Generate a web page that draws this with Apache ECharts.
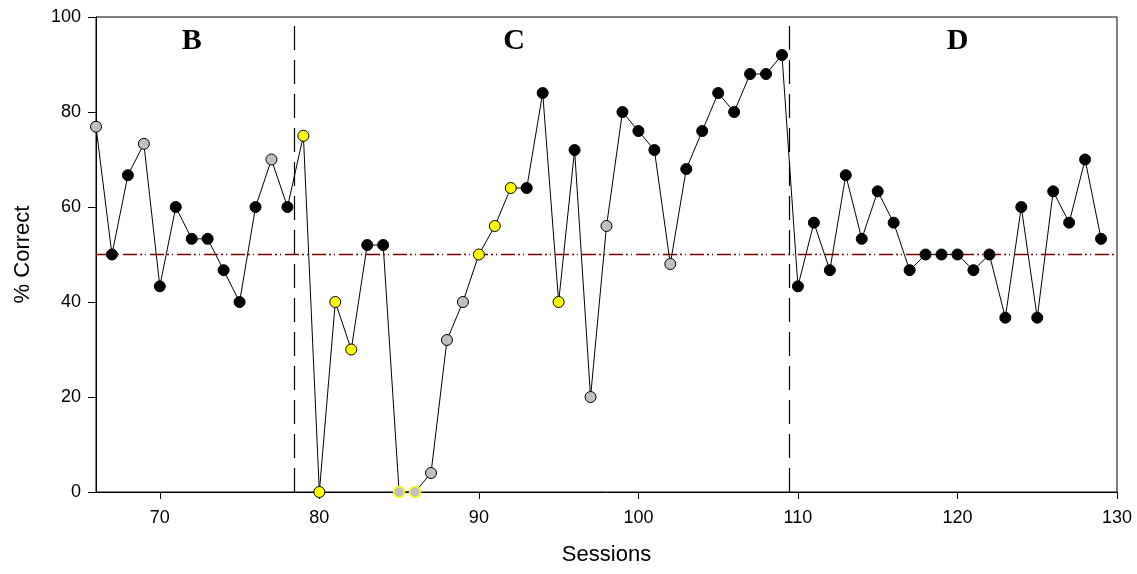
<!DOCTYPE html>
<html>
<head>
<meta charset="utf-8">
<script src="https://cdn.jsdelivr.net/npm/echarts@6/dist/echarts.min.js"></script>
<style>
html,body{margin:0;padding:0;background:#fff;}
#chart{width:1137px;height:574px;}
</style>
</head>
<body>
<div id="chart"></div>
<script>
// ---- data ----
const sessions = [66,67,68,69,70,71,72,73,74,75,76,77,78,79,80,81,82,83,84,85,86,87,88,89,90,91,92,93,94,95,96,97,98,99,100,101,102,103,104,105,106,107,108,109,110,111,112,113,114,115,116,117,118,119,120,121,122,123,124,125,126,127,128,129];
const percentCorrect = [76.9,50,66.7,73.3,43.3,60,53.3,53.3,46.7,40,60,70,60,75,0,40,30,52,52,0,0,4,32,40,50,56,64,64,84,40,72,20,56,80,76,72,48,68,76,84,80,88,88,92,43.3,56.7,46.7,66.7,53.3,63.3,56.7,46.7,50,50,50,46.7,50,36.7,60,36.7,63.3,56.7,70,53.3];
// marker type per session: k = black, g = gray, y = yellow, gy = gray with yellow outline
const markerType = ['g','k','k','g','k','k','k','k','k','k','k','g','k','y','y','y','y','k','k','gy','gy','g','g','g','y','y','y','k','k','y','k','g','g','k','k','k','g','k','k','k','k','k','k','k','k','k','k','k','k','k','k','k','k','k','k','k','k','k','k','k','k','k','k','k'];
const phaseNames = ['B','C','D'];
const phaseNameSession = [72, 92.2, 120];
const phaseChanges = [78.45, 109.45];
const chanceLevel = 50;
const xTicks = [70,80,90,100,110,120,130];

// ---- styles ----
const styleFor = {
  k:  {color:'#000000', borderColor:'#000000', borderWidth:1, opacity:1},
  g:  {color:'#c0c0c0', borderColor:'#000000', borderWidth:1, opacity:1},
  y:  {color:'#ffff00', borderColor:'#000000', borderWidth:1, opacity:1},
  gy: {color:'#c0c0c0', borderColor:'#ffff00', borderWidth:1.5, opacity:1}
};

const lineData = sessions.map((s,i)=>[s, percentCorrect[i]]);
const pointData = sessions.map((s,i)=>({value:[s, percentCorrect[i]], itemStyle: styleFor[markerType[i]]}));

const chart = echarts.init(document.getElementById('chart'), null, {renderer:'canvas'});
chart.setOption({
  animation:false,
  backgroundColor:'#ffffff',
  grid:{left:96, right:20, top:17, bottom:82, show:true, borderColor:'#000', borderWidth:1, backgroundColor:'transparent'},
  xAxis:{
    type:'value', min:66, max:130,
    name:'Sessions', nameLocation:'middle', nameGap:52,
    nameTextStyle:{fontFamily:'Liberation Sans', fontSize:22, color:'#000'},
    axisLine:{show:true, lineStyle:{color:'#000', width:1}},
    axisTick:{show:true, customValues:xTicks, length:7, lineStyle:{color:'#000'}},
    axisLabel:{customValues:xTicks, fontFamily:'Liberation Sans', fontSize:18, color:'#000', margin:17},
    splitLine:{show:false}
  },
  yAxis:{
    type:'value', min:0, max:100, interval:20,
    name:'% Correct', nameLocation:'middle', nameGap:62,
    nameTextStyle:{fontFamily:'Liberation Sans', fontSize:22, color:'#000'},
    axisLine:{show:true, lineStyle:{color:'#000', width:1}},
    axisTick:{show:true, length:8, lineStyle:{color:'#000'}},
    axisLabel:{fontFamily:'Liberation Sans', fontSize:18, color:'#000', margin:15},
    splitLine:{show:false}
  },
  series:[
    {
      type:'line', data:lineData, showSymbol:false, symbol:'none',
      lineStyle:{color:'#000', width:1, opacity:1}, z:3,
      markLine:{
        silent:true, symbol:['none','none'], label:{show:false},
        data:[
          ...phaseChanges.map(v=>({xAxis:v, lineStyle:{color:'#000', width:1.2, type:[24,10], opacity:1}})),
          {yAxis:chanceLevel, lineStyle:{color:'#7a0000', width:1.3, type:[14,3,2,3,1,4], opacity:1}}
        ]
      }
    },
    {
      type:'scatter', data:pointData, symbol:'circle', symbolSize:11, z:5,
      itemStyle:{opacity:1}
    },
    {
      type:'scatter', symbolSize:0, z:6, itemStyle:{opacity:1},
      data:phaseNames.map((n,i)=>({value:[phaseNameSession[i], 95], name:n})),
      label:{show:true, position:'inside', formatter:p=>p.name, opacity:1,
        fontFamily:'Liberation Serif', fontWeight:'bold', fontSize:30, color:'#000'}
    }
  ]
});
</script>
</body>
</html>
